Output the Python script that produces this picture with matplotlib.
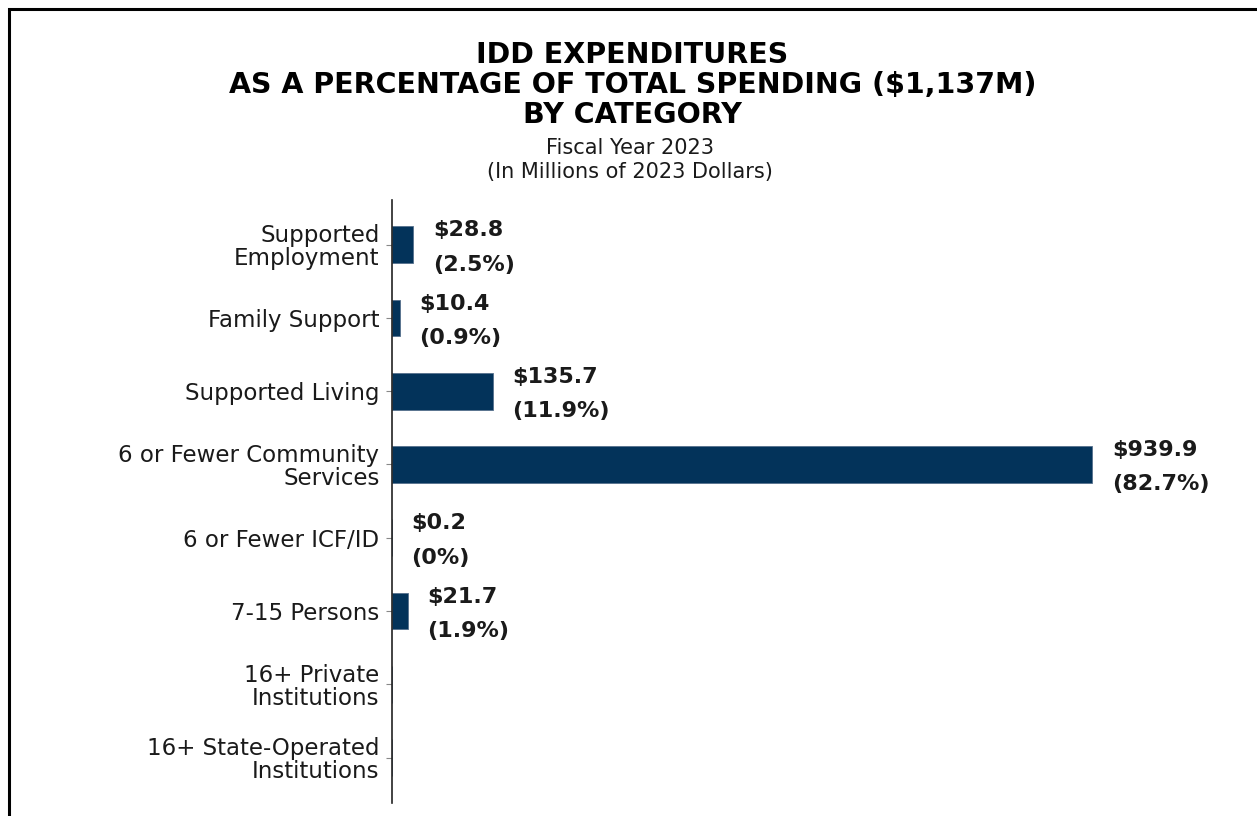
import matplotlib.pyplot as plt
from matplotlib.patches import Rectangle

# the reference text is wide (stretched Arial) -> DejaVu Sans is the closest width
plt.rcParams["font.family"] = ["DejaVu Sans"]

# ── data (Fiscal Year 2023, millions of 2023 dollars) ─────────────────────────
categories = [
    "Supported\nEmployment",
    "Family Support",
    "Supported Living",
    "6 or Fewer Community\nServices",
    "6 or Fewer ICF/ID",
    "7-15 Persons",
    "16+ Private\nInstitutions",
    "16+ State-Operated\nInstitutions",
]
spending = [28.8, 10.4, 135.7, 939.9, 0.2, 21.7, 0.0, 0.0]
share_pct = ["2.5%", "0.9%", "11.9%", "82.7%", "0%", "1.9%", None, None]

BAR_COLOR = "#03335A"
TEXT_COLOR = "#1a1a1a"

fig = plt.figure(figsize=(12.57, 8.16), dpi=100)
ax = fig.add_axes([392 / 1257, 1 - 803 / 816, 848 / 1257, 603 / 816])

ypos = list(range(len(categories)))
ax.barh(ypos, spending, height=0.5, color=BAR_COLOR,
        edgecolor="#56708c", linewidth=0.6)

for y, val, pct in zip(ypos, spending, share_pct):
    if pct is None:
        continue
    ax.annotate(f"${val:,.1f}\n({pct})", xy=(val, y), xytext=(14, -2),
                textcoords="offset points", ha="left", va="center",
                fontsize=16, fontweight="bold", color=TEXT_COLOR,
                linespacing=1.9)

ax.set_xlim(0, 1138)
ax.set_ylim(7.62, -0.61)
ax.set_yticks(ypos)
ax.set_yticklabels(categories, fontsize=16.5, color=TEXT_COLOR, linespacing=1.0)
ax.tick_params(axis="y", length=4, width=0.8, color="#888888", pad=5)
ax.set_xticks([])
for side in ("top", "right", "bottom"):
    ax.spines[side].set_visible(False)
ax.spines["left"].set_linewidth(1.2)
ax.spines["left"].set_color("#222222")

fig.text(0.503, 1 - 85 / 816,
         "IDD EXPENDITURES\nAS A PERCENTAGE OF TOTAL SPENDING ($1,137M)\nBY CATEGORY",
         ha="center", va="center", fontsize=20.5, fontweight="bold",
         color="black", linespacing=1.1)
fig.text(0.501, 1 - 160 / 816,
         "Fiscal Year 2023\n(In Millions of 2023 Dollars)",
         ha="center", va="center", fontsize=15, color=TEXT_COLOR,
         linespacing=1.25)

# page frame (only top and left edges fall inside the picture)
fig.patches.append(Rectangle((8.5 / 1257, -0.2), 1.2, 1.2 - 8.5 / 816,
                             transform=fig.transFigure, fill=False,
                             edgecolor="black", linewidth=2.2))

fig.savefig("out.png", dpi=100)
